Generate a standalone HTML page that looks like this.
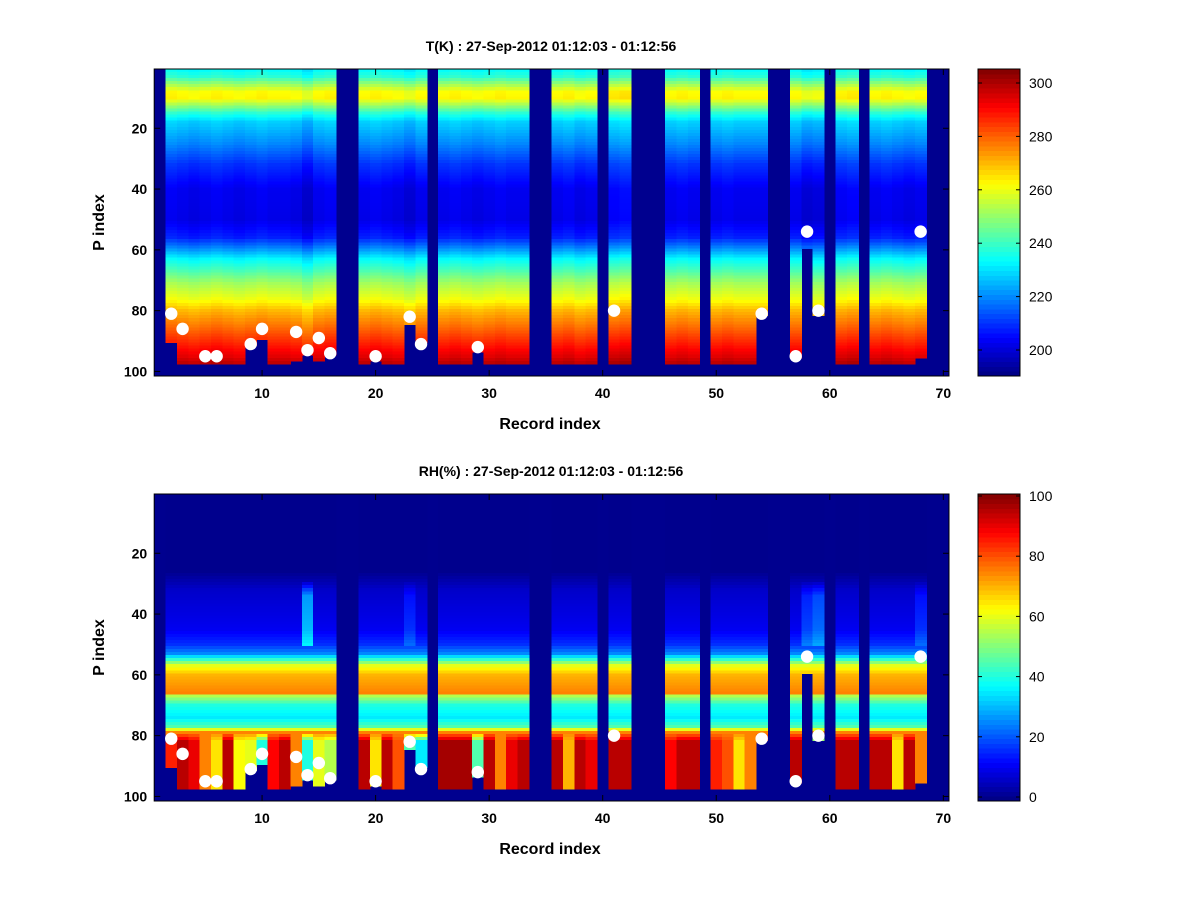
<!DOCTYPE html>
<html><head><meta charset="utf-8"><style>
html,body{margin:0;padding:0;background:#fff;}
svg{display:block;font-family:"Liberation Sans",sans-serif;}
</style></head><body>
<svg id="fig" width="1200" height="900" viewBox="0 0 1200 900" xmlns="http://www.w3.org/2000/svg">
<rect width="1200" height="900" fill="#fff"/>
</svg>
<script>
// ---- data ----
const recordIndex = Array.from({length:70},(_,i)=>i+1);
const bottomLevel = [0,90,97,97,97,97,97,97,91,89,97,97,96,94,96,94,0,0,97,96,97,97,84,90,0,97,97,97,93,97,97,97,97,0,0,97,97,97,97,0,97,97,0,0,0,97,97,97,0,97,97,97,97,81,0,0,95,59,81,0,97,97,0,97,97,97,97,95,0,0];
const markerCols = [2,3,5,6,9,10,13,14,15,16,20,23,24,29,41,54,57,58,59,68];
const markerLevels = [81,86,95,95,91,86,87,93,89,94,95,82,91,92,80,81,95,54,80,54];
const tKnotLevels = [1,3,5,8,10,12,15,18,25,32,40,50,56,60,63,67,71,76,80,85,90,95,97];
const tKnotValues = [234,238,248,262,263,253,238,228,220,210,203,202,208,222,233,242,252,260,270,278,286,294,298];
const tColOffset = [0,1,0,-1,0,1,0,-1,0,1,0,0,-1,-4,0,1,0,0,0,1,0,-1,-3,0,0,0,1,0,-1,0,1,0,0,0,0,0,1,-1,0,0,2,3,0,0,0,0,1,0,0,0,1,0,0,0,0,0,0,-3,-2,0,1,2,0,0,1,0,-1,0,0,0];
const rhKnotLevels = [1,26,32,45,50,53,55,57,60,66,67,70,74,77,79];
const rhKnotValues = [0,0,6,10,16,25,42,60,70,75,55,40,35,45,75];
const rhBottom = [0,85,95,90,75,65,95,62,60,40,88,95,75,40,60,55,0,0,95,65,95,80,45,35,0,97,97,97,45,95,75,90,95,0,0,95,70,95,90,0,95,95,0,0,0,88,95,95,0,85,80,65,75,85,0,0,95,70,40,0,95,95,0,95,95,65,95,75,0,0];
const rhUpperAdd = [0,0,0,0,0,0,0,0,0,0,0,0,0,20,0,0,0,0,0,0,0,0,6,0,0,0,0,0,0,0,0,0,0,0,0,0,0,0,0,0,0,0,0,0,0,0,0,0,0,0,0,0,0,0,0,0,0,8,12,0,0,0,0,0,0,0,0,6,0,0];
const tTicks = [200,220,240,260,280,300];
const rhTicks = [0,20,40,60,80,100];
const xTicks = [10,20,30,40,50,60,70];
const yTicks = [20,40,60,80,100];

const NS="http://www.w3.org/2000/svg";
const svg=document.getElementById('fig');
function mk(tag,attrs,parent){const e=document.createElementNS(NS,tag);for(const k in attrs)e.setAttribute(k,attrs[k]);(parent||svg).appendChild(e);return e;}
function jet(t){t=Math.max(0,Math.min(1,t));
 const f=x=>Math.round(255*Math.max(0,Math.min(1,x)));
 const r=f(Math.min(4*t-1.5,-4*t+4.5)),g=f(Math.min(4*t-0.5,-4*t+3.5)),b=f(Math.min(4*t+0.5,-4*t+2.5));
 return `rgb(${r},${g},${b})`;}
function interp(xs,ys,x){if(x<=xs[0])return ys[0];for(let i=1;i<xs.length;i++){if(x<=xs[i]){const u=(x-xs[i-1])/(xs[i]-xs[i-1]);return ys[i-1]+u*(ys[i]-ys[i-1]);}}return ys[ys.length-1];}

const X0=154.2,X1=949,NL=101;
function xs(v){return X0+(v-0.5)*(X1-X0)/70;}
function tVal(c,l){return interp(tKnotLevels,tKnotValues,l)+tColOffset[c-1];}
function rhVal(c,l){
 let base=interp(rhKnotLevels,rhKnotValues,l);
 if(l>=30&&l<=50)base+=rhUpperAdd[c-1]*Math.min(1,(l-29)/5);
 if(l>=82)return rhBottom[c-1];
 if(l>79)return base+(rhBottom[c-1]-base)*(l-79)/3;
 return base;}

function panel(cfg){
 const {y0,y1,title,valFn,cmin,cmax,ticks,cbTickY,name}=cfg;
 const g=mk('g',{});
 
 
 const ys=v=>y0+(v-0.5)*(y1-y0)/NL;
 mk('rect',{x:X0,y:y0,width:X1-X0,height:y1-y0,fill:'rgb(0,0,143)'},g);
 const cells=mk('g',{'shape-rendering':'crispEdges'},g);
 
 recordIndex.forEach(c=>{
  const bl=bottomLevel[c-1];
  for(let l=1;l<=bl;l++){
   const v=valFn(c,l);
   mk('rect',{x:xs(c-0.5),y:ys(l-0.5),width:(X1-X0)/70+0.6,height:(y1-y0)/NL+0.6,fill:jet((v-cmin)/(cmax-cmin))},cells);
  }
 });
 markerCols.forEach((c,i)=>{
  const m=mk('circle',{cx:xs(c),cy:ys(markerLevels[i]),r:6.2,fill:'#fff'},g);
  
  
 });
 mk('rect',{x:X0,y:y0,width:X1-X0,height:y1-y0,fill:'none',stroke:'#000','stroke-width':1},g);
 xTicks.forEach(v=>{const x=xs(v);
  mk('line',{x1:x,y1:y1,x2:x,y2:y1-6,stroke:'#000'},g);mk('line',{x1:x,y1:y0,x2:x,y2:y0+6,stroke:'#000'},g);
  const t=mk('text',{x:x,y:y1+22,'text-anchor':'middle','font-size':14,'font-weight':'bold'},g);t.textContent=v;
  });
 yTicks.forEach(v=>{const y=ys(v);
  mk('line',{x1:X0,y1:y,x2:X0+6,y2:y,stroke:'#000'},g);mk('line',{x1:X1,y1:y,x2:X1-6,y2:y,stroke:'#000'},g);
  const t=mk('text',{x:X0-7,y:y+5,'text-anchor':'end','font-size':14,'font-weight':'bold'},g);t.textContent=v;
  });
 const tt=mk('text',{x:551,y:y0-18,'text-anchor':'middle','font-size':14,'font-weight':'bold'},g);tt.textContent=title;
 
 const xl=mk('text',{x:550,y:y1+53,'text-anchor':'middle','font-size':16,'font-weight':'bold'},g);xl.textContent='Record index';
 
 const yl=mk('text',{x:0,y:0,'text-anchor':'middle','font-size':16,'font-weight':'bold',transform:`translate(104,${(y0+y1)/2}) rotate(-90)`},g);yl.textContent='P index';
 
 const cb=mk('g',{},g);
 
 const N=64,h=(y1-y0)/N;
 for(let i=0;i<N;i++){mk('rect',{x:978,y:y1-(i+1)*h,width:42,height:h+0.5,fill:jet((i+0.5)/N),'shape-rendering':'crispEdges'},cb);}
 mk('rect',{x:978,y:y0,width:42,height:y1-y0,fill:'none',stroke:'#000'},cb);
 ticks.forEach(v=>{const y=cbTickY(v);
  mk('line',{x1:978,y1:y,x2:982,y2:y,stroke:'#000'},cb);mk('line',{x1:1020,y1:y,x2:1016,y2:y,stroke:'#000'},cb);
  const t=mk('text',{x:1029,y:y+5,'font-size':14},cb);t.textContent=v;
  });
}
panel({y0:69,y1:376,title:'T(K) : 27-Sep-2012 01:12:03 - 01:12:56',valFn:tVal,cmin:190.3,cmax:305.2,ticks:tTicks,cbTickY:v=>350-(v-200)*2.67,name:'temperature-panel'});
panel({y0:494,y1:801,title:'RH(%) : 27-Sep-2012 01:12:03 - 01:12:56',valFn:rhVal,cmin:-1.3,cmax:100.7,ticks:rhTicks,cbTickY:v=>797-v*3.01,name:'humidity-panel'});
</script>
</body></html>
